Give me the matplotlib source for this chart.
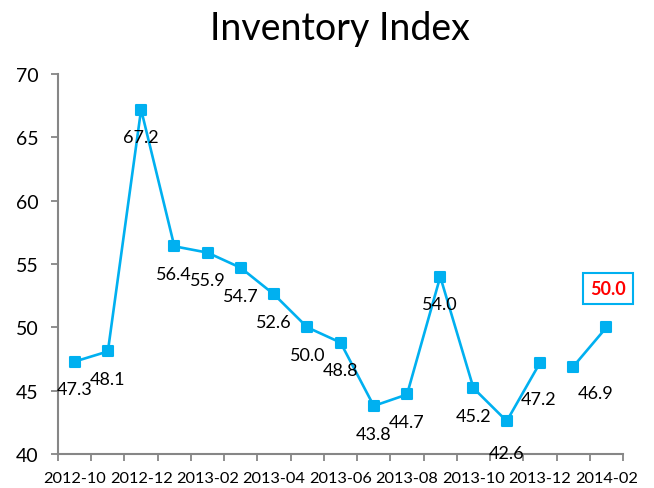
import numpy as np
import matplotlib
matplotlib.use("Agg")
import matplotlib.pyplot as plt
from matplotlib.markers import MarkerStyle

plt.rcParams['font.family'] = ['Lato', 'DejaVu Sans']

# data
months = ["2012-10", "2012-11", "2012-12", "2013-01", "2013-02", "2013-03",
          "2013-04", "2013-05", "2013-06", "2013-07", "2013-08", "2013-09",
          "2013-10", "2013-11", "2013-12", "2014-01", "2014-02"]
values = [47.3, 48.1, 67.2, 56.4, 55.9, 54.7, 52.6, 50.0, 48.8, 43.8,
          44.7, 54.0, 45.2, 42.6, 47.2, 46.9, 50.0]
# the line breaks after this index (no segment between 2013-12 and 2014-01)
gap_after = 14

blue = "#00B0F0"
grey = "#868686"

fig = plt.figure(figsize=(6.54, 4.89), dpi=100)
ax = fig.add_axes([0.0887, 0.0695, 0.864, 0.777])

x = np.arange(len(months))
mk = MarkerStyle('s', joinstyle='round')
for sl in (slice(0, gap_after + 1), slice(gap_after + 1, None)):
    ax.plot(x[sl], values[sl], color=blue, lw=1.9, marker=mk, ms=7.5,
            mfc=blue, mec=blue, mew=1.5, solid_joinstyle='round', zorder=3)

# data labels (offsets in points, mostly "below")
offsets = {13: (0, -23), 14: (-1, -26), 15: (16, -19)}
for i, v in enumerate(values):
    if i == len(values) - 1:
        ax.annotate(f"{v:.1f}", (x[i], v), xytext=(1, 28), textcoords="offset points",
                    ha="center", va="center", fontsize=13, color="red",
                    fontweight="bold",
                    bbox=dict(boxstyle="square,pad=0.4", fc="white", ec=blue, lw=1.5))
        continue
    dx, dy = offsets.get(i, (0, -20))
    ax.annotate(f"{v:.1f}", (x[i], v), xytext=(dx, dy), textcoords="offset points",
                ha="center", va="center", fontsize=13, color="black", zorder=4)

ax.set_xlim(-0.5, len(months) - 0.5)
ax.set_ylim(40, 70)
ax.set_yticks(np.arange(40, 71, 5))

# ticks between categories, labels on every other category
ax.set_xticks(np.arange(-0.5, len(months), 1.0))
ax.set_xticklabels([])
ax.set_xticks(x[::2], minor=True)
ax.set_xticklabels(months[::2], minor=True, fontsize=11.8)
ax.tick_params(axis="x", which="minor", length=0, pad=12)
ax.tick_params(axis="x", which="major", length=5, width=1.3, color=grey, direction="out")
ax.tick_params(axis="y", length=5, width=1.3, color=grey, direction="out",
               labelsize=14, pad=9)

for s in ("top", "right"):
    ax.spines[s].set_visible(False)
for s in ("left", "bottom"):
    ax.spines[s].set_color(grey)
    ax.spines[s].set_linewidth(1.5)

fig.text(0.52, 0.94, "Inventory Index", ha="center", va="center", fontsize=27)

fig.savefig("out.png", dpi=100)
